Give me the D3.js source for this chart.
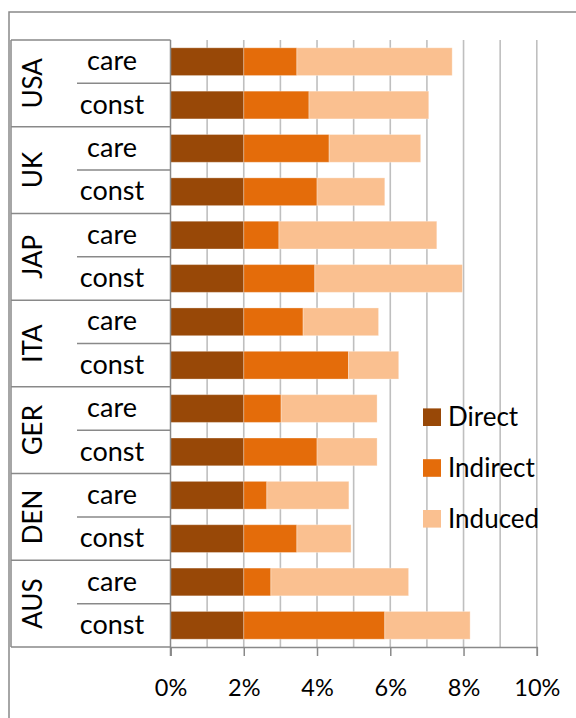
<!DOCTYPE html>
<html>
<head>
<meta charset="utf-8">
<script src="https://cdn.jsdelivr.net/npm/d3@7"></script>
<style>
  html, body { margin: 0; padding: 0; background: #fff; }
  svg { display: block; }
  text { font-family: Lato, "Open Sans", sans-serif; fill: #000; }
</style>
</head>
<body>
<svg id="chart" width="576" height="718"></svg>
<script>
// ---- data (top to bottom) ----
const countries = ["USA", "UK", "JAP", "ITA", "GER", "DEN", "AUS"];
const sectors = ["care", "const"];
const seriesNames = ["Direct", "Indirect", "Induced"];
const direct   = [2.00, 2.00, 2.00, 2.00, 2.00, 2.00, 2.00, 2.00, 2.00, 2.00, 2.00, 2.00, 2.00, 2.00];
const indirect = [1.45, 1.78, 2.33, 2.00, 0.96, 1.94, 1.62, 2.86, 1.02, 2.00, 0.63, 1.45, 0.74, 3.85];
const induced  = [4.24, 3.27, 2.50, 1.85, 4.31, 4.03, 2.06, 1.37, 2.62, 1.64, 2.24, 1.48, 3.76, 2.33];
const xTicks = [0, 2, 4, 6, 8, 10];
const xGrid = [1, 2, 3, 4, 5, 6, 7, 8, 9, 10];
const colors = ["#984807", "#E46C0A", "#FAC090"];

(function () {
// ---- build rows ----
const rows = [];
countries.forEach((c, ci) => sectors.forEach((s, si) => {
  const i = ci * 2 + si;
  rows.push({ id: c + "|" + s, country: c, sector: s,
              Direct: direct[i] / 100, Indirect: indirect[i] / 100, Induced: induced[i] / 100 });
}));

const svg = d3.select("#chart");
const pLeft = 170.5, pRight = 536.8, pTop = 40, pBottom = 647, boxLeft = 11, subLeft = 77;
const lineCol = "#898989";

const x = d3.scaleLinear().domain([0, 0.10]).range([pLeft, pRight]);
const y = d3.scaleBand().domain(rows.map(d => d.id)).range([pTop, pBottom])
  .paddingInner(0.36).paddingOuter(0.18);
const yCountry = d3.scaleBand().domain(countries).range([pTop, pBottom]);

// outer chart border (extends beyond the visible area)
svg.append("rect").attr("x", 9).attr("y", 12).attr("width", 620).attr("height", 760)
  .attr("fill", "none").attr("stroke", lineCol).attr("stroke-width", 1.5);

// gridlines
svg.append("g").selectAll("line").data(xGrid).join("line")
  .attr("x1", d => x(d / 100)).attr("x2", d => x(d / 100))
  .attr("y1", pTop).attr("y2", pBottom)
  .attr("stroke", "#bfbfbf").attr("stroke-width", 1.6);

// stacked bars
const stack = d3.stack().keys(seriesNames)(rows);
svg.append("g").selectAll("g").data(stack).join("g")
  .attr("fill", (d, i) => colors[i])
  .selectAll("rect").data(d => d).join("rect")
  .attr("x", d => x(d[0])).attr("width", d => x(d[1]) - x(d[0]))
  .attr("y", d => y(d.data.id)).attr("height", y.bandwidth())
  .attr("stroke", "#ffffff").attr("stroke-opacity", 0.3).attr("stroke-width", 1);

// x axis
const xAxis = d3.axisBottom(x).tickValues(xTicks.map(v => v / 100))
  .tickFormat(d3.format(".0%")).tickSize(9).tickPadding(23);
const gx = svg.append("g").attr("transform", `translate(0,${pBottom})`).call(xAxis);
gx.select(".domain").attr("stroke", lineCol).attr("stroke-width", 1.5);
gx.selectAll(".tick line").attr("stroke", lineCol).attr("stroke-width", 1.5);
gx.selectAll(".tick text").style("font-size", "23.5px").style("font-family", "Lato, sans-serif").attr("fill", "#000");

// multi-level category axis box
const box = svg.append("g").attr("stroke", lineCol).attr("stroke-width", 1.5);
box.append("line").attr("x1", boxLeft).attr("x2", boxLeft).attr("y1", pTop).attr("y2", pBottom);
box.append("line").attr("x1", pLeft).attr("x2", pLeft).attr("y1", pTop).attr("y2", pBottom + 9);
const bounds = countries.map(c => yCountry(c)).concat([pBottom]);
box.selectAll(".cs").data(bounds).join("line")
  .attr("x1", boxLeft).attr("x2", pLeft).attr("y1", d => d).attr("y2", d => d);
box.selectAll(".ss").data(countries).join("line")
  .attr("x1", subLeft).attr("x2", pLeft)
  .attr("y1", d => yCountry(d) + yCountry.bandwidth() / 2)
  .attr("y2", d => yCountry(d) + yCountry.bandwidth() / 2);

// sector labels
svg.append("g").selectAll("text").data(rows).join("text")
  .attr("x", 112).attr("y", d => y(d.id) + y.bandwidth() / 2)
  .attr("dy", "0.32em").attr("text-anchor", "middle")
  .style("font-size", "27px").text(d => d.sector);

// country labels (rotated)
svg.append("g").selectAll("text").data(countries).join("text")
  .attr("transform", d => `translate(32.5,${yCountry(d) + yCountry.bandwidth() / 2}) rotate(-90)`)
  .attr("dy", "0.36em").attr("text-anchor", "middle")
  .style("font-size", "26px").text(d => d);

// legend
const lg = svg.append("g").selectAll("g").data(seriesNames).join("g")
  .attr("transform", (d, i) => `translate(423,${417.2 + i * 50.8})`);
lg.append("rect").attr("x", 0).attr("y", -8.8).attr("width", 18).attr("height", 17.6)
  .attr("fill", (d, i) => colors[i]);
lg.append("text").attr("x", 25).attr("y", 0).attr("dy", "0.34em")
  .style("font-size", "26px").text(d => d);
})();
</script>
</body>
</html>
